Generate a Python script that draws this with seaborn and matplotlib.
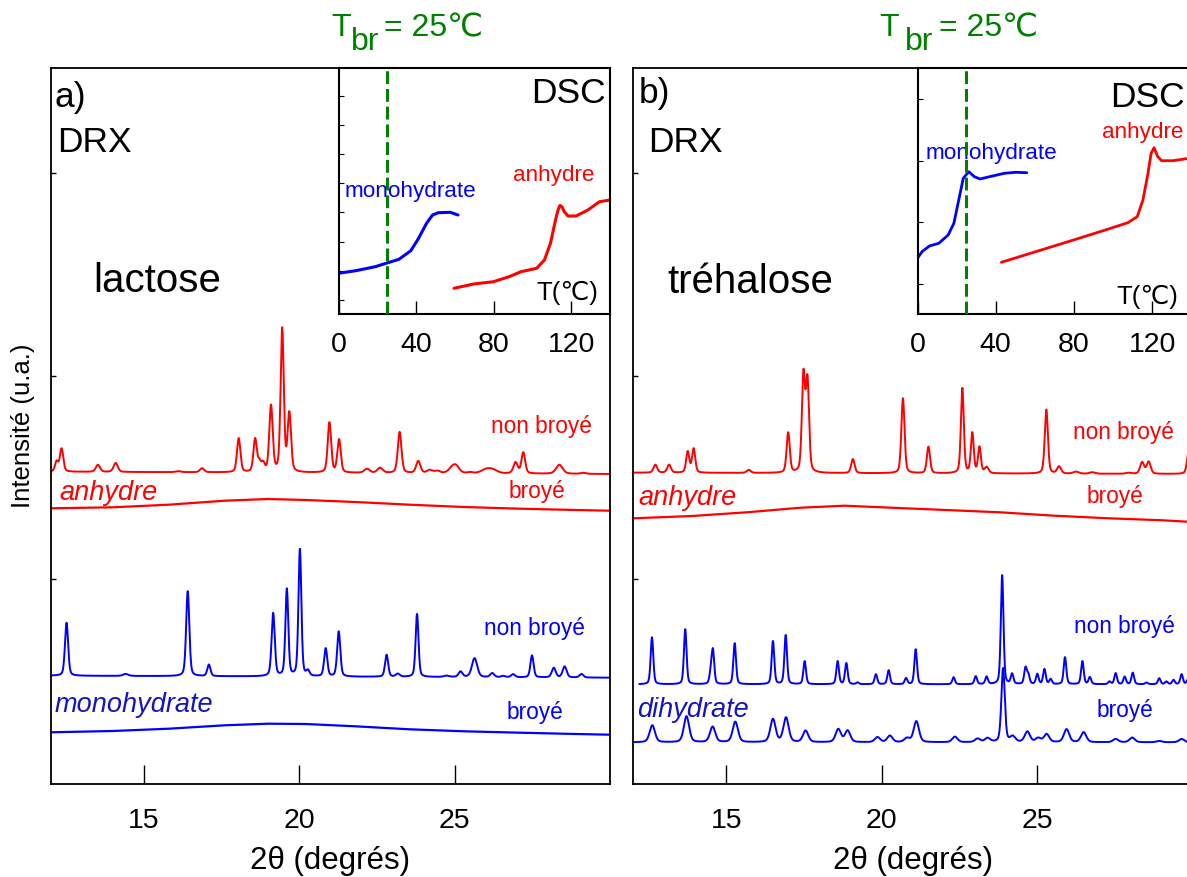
import numpy as np
import pandas as pd
import matplotlib
matplotlib.use("Agg")
import matplotlib.pyplot as plt
import seaborn as sns

# ---------------------------------------------------------------- XRD data
# peak lists (2theta in degrees, height and FWHM in arbitrary units / degrees)
lac_anh_pos = [12.19, 12.35, 13.52, 14.09, 16.10, 16.87, 18.05, 18.58, 18.72, 18.84,
               19.09, 19.45, 19.68, 20.97, 21.28, 22.18, 22.60, 23.23, 23.83, 24.20,
               24.44, 24.90, 25.04, 25.50, 26.00, 26.22, 26.96, 27.21, 28.37, 29.14]
lac_anh_h = [10, 23, 7, 9, 1, 4, 34, 33, 9, 8,
             66, 143, 58, 50, 33, 4, 5, 41, 12, 3,
             2.3, 4, 7, 1, 3.5, 3.5, 11, 21, 9, 1]
lac_anh_w = [0.12, 0.13, 0.16, 0.16, 0.2, 0.16, 0.13, 0.13, 0.12, 0.12,
             0.13, 0.12, 0.13, 0.13, 0.13, 0.2, 0.2, 0.14, 0.16, 0.2,
             0.2, 0.25, 0.25, 0.2, 0.35, 0.35, 0.16, 0.14, 0.25, 0.2]
lac_anh_base = [311.8, 309.5]          # baseline at 12 and 30 deg

lac_anh_amorph_x = [12.0, 14.0, 15.8, 17.6, 19.0, 20.2, 21.8, 23.55, 25.3, 27.1, 28.9, 30.0]
lac_anh_amorph_y = [275.2, 276.2, 278.8, 282.8, 284.5, 283.5, 281.5, 278.8, 276.5, 274.8, 273.5, 272.8]

lac_mono_pos = [12.51, 14.41, 16.41, 17.09, 19.16, 19.60, 20.02, 20.28, 20.85, 21.27,
                22.81, 23.17, 23.79, 24.74, 25.19, 25.64, 26.21, 26.56, 26.88, 27.49,
                28.19, 28.54, 29.08]
lac_mono_h = [53, 2, 85, 11.5, 63, 87, 127, 5, 28, 45,
              22, 3, 63, 1.3, 5.5, 19, 4, 1.3, 3, 22,
              9.5, 11, 3.5]
lac_mono_w = [0.12, 0.2, 0.12, 0.12, 0.12, 0.11, 0.11, 0.12, 0.12, 0.12,
              0.12, 0.15, 0.11, 0.2, 0.15, 0.2, 0.15, 0.15, 0.15, 0.12,
              0.15, 0.15, 0.15]
lac_mono_base = [107.8, 105.8]

lac_mono_amorph_x = [12.0, 14.0, 15.8, 17.6, 19.0, 20.2, 21.8, 23.55, 25.3, 27.1, 28.9, 30.0]
lac_mono_amorph_y = [51.2, 52.5, 54.8, 58.2, 59.8, 59.5, 57.2, 54.2, 52.2, 50.8, 49.5, 48.8]

tre_anh_pos = [12.72, 13.16, 13.76, 13.95, 15.72, 16.99, 17.48, 17.61, 19.07, 20.68,
               21.50, 22.59, 22.91, 23.14, 23.37, 25.29, 25.70, 26.24, 26.77, 27.93,
               28.37, 28.58, 29.88]
tre_anh_h = [8, 8, 21, 24, 3, 40, 96, 90, 14, 75,
             26.5, 85, 40, 26, 6, 64, 7, 2, 1.5, 1,
             11.5, 12, 25]
tre_anh_w = [0.14, 0.14, 0.12, 0.12, 0.15, 0.12, 0.12, 0.12, 0.13, 0.12,
             0.12, 0.11, 0.11, 0.11, 0.15, 0.12, 0.15, 0.2, 0.2, 0.2,
             0.15, 0.15, 0.14]
tre_anh_base = [310.8, 309.5]

tre_anh_amorph_x = [12.0, 13.9, 15.66, 17.4, 18.8, 20.3, 22.06, 23.8, 25.55, 27.3, 29.04, 30.0]
tre_anh_amorph_y = [265.2, 267.5, 271.2, 275.8, 277.8, 275.8, 273.5, 271.2, 267.8, 265.2, 263.2, 261.5]

tre_di_pos = [12.61, 13.68, 14.50, 14.57, 15.27, 16.50, 16.91, 17.52, 18.58, 18.86,
              19.22, 19.81, 20.22, 20.78, 21.09, 22.31, 23.02, 23.37, 23.87, 24.19,
              24.62, 24.71, 25.00, 25.23, 25.43, 25.89, 26.45, 26.69, 27.32, 27.52,
              27.81, 28.07, 28.51, 28.92, 29.15, 29.38, 29.64, 29.85]
tre_di_h = [47, 55, 10, 33, 41, 43, 49, 23, 23, 21,
            1.7, 10, 14, 6, 35, 7, 8, 7.5, 109, 10,
            16, 9, 10, 15, 5, 27, 23, 7, 2.7, 11,
            7.5, 11.5, 1.7, 6, 2.7, 4.3, 10, 5]
tre_di_w = [0.1] * len(tre_di_pos)
tre_di_base = [99.2, 99.2]

tre_di_br_pos = [12.62, 13.72, 14.56, 15.29, 16.50, 16.92, 17.55, 18.60, 18.90, 19.86,
                 20.26, 20.81, 21.11, 22.35, 23.08, 23.40, 23.90, 24.21, 24.68, 25.03,
                 25.30, 25.94, 26.49, 27.52, 28.05, 28.92, 29.64]
tre_di_br_h = [17, 26, 15.5, 20.5, 23, 24.5, 11.5, 13, 11.5, 5,
               6.5, 4, 21, 5.5, 3.5, 4, 74, 5.5, 10.5, 4,
               8, 13, 10, 3.3, 4.7, 1.3, 3.3]
tre_di_br_w = [0.2] * 16 + [0.13] + [0.2] * 10
tre_di_br_base = [41.2, 41.2]

# ---------------------------------------------------------------- DSC data
dsc_lac_mono_T = [0, 8.9, 19, 24.5, 31.2, 37.3, 41.3, 45.4, 48.5, 51.5, 57.6, 61.6]
dsc_lac_mono_q = [40.7, 43.3, 47.3, 50.7, 54.7, 63.3, 75.7, 90.7, 99, 101.3, 101.7, 99]
dsc_lac_anh_T = [59.6, 69.7, 79.9, 88, 94.1, 102.2, 106.2, 109.3, 111.9, 113.2, 114.2,
                 115.3, 116.5, 118.4, 122.5, 128.6, 134.6, 140]
dsc_lac_anh_q = [25.7, 30, 32.3, 37.3, 42.3, 45.7, 54, 70.7, 94, 104, 108.5,
                 107, 102, 98, 98, 104, 112.3, 114]
dsc_tre_mono_T = [0, 2.3, 6.1, 10.9, 15.7, 18.6, 21.1, 23.4, 26.2, 29.1, 32, 36.8,
                  44.4, 50.2, 55.9]
dsc_tre_mono_q = [55.7, 62.3, 68, 70.7, 79, 90.7, 114, 135.7, 142.3, 137.3, 135, 137.3,
                  140.7, 141.7, 141.3]
dsc_tre_anh_T = [42.9, 57.8, 77, 96.1, 107.6, 112.4, 115.3, 117.6, 119.5, 121, 122.9,
                 124.9, 130.6, 140]
dsc_tre_anh_q = [51.7, 60.7, 72.3, 84, 91.3, 97.3, 114, 137.3, 160.7, 166.3, 157.3,
                 153.3, 153.3, 156]

T_BR = 25
xrd_ticks = [15, 20, 25]
dsc_ticks = [0, 40, 80, 120]

RED = "#ff0000"
BLUE = "#0000ff"
NAVY = "#1414c0"
GREEN = "#008000"


def pattern(pos, h, w, base, x0=12.0, x1=30.0, eta=0.35):
    """Pseudo-Voigt profile of a peak list on a linear baseline."""
    tt = np.arange(x0, x1 + 1e-9, 0.005)
    y = np.interp(tt, [12.0, 30.0], base)
    for p, a, f in zip(pos, h, w):
        s = f / 2.3548
        g = np.exp(-0.5 * ((tt - p) / s) ** 2)
        lo = 1.0 / (1.0 + ((tt - p) / (f / 2)) ** 2)
        y = y + a * ((1 - eta) * g + eta * lo)
    return pd.DataFrame({"tt": tt, "I": y})


def curve(ax, df, color, lw):
    sns.lineplot(data=df, x="tt", y="I", ax=ax, color=color, linewidth=lw,
                 estimator=None, sort=False, legend=False)


sns.set_style("ticks", {"axes.edgecolor": "black", "text.color": "black",
                        "xtick.color": "black", "ytick.color": "black",
                        "axes.labelcolor": "black"})
plt.rcParams["font.family"] = ["Liberation Sans", "DejaVu Sans"]
plt.rcParams["axes.linewidth"] = 1.3

W, H = 1187, 877
fig = plt.figure(figsize=(W / 100, H / 100), dpi=100)


def fx(px):
    return px / W


def fy(py):
    return 1 - py / H


ax_l = fig.add_axes([fx(50.7), fy(783.5), fx(559.3), 716 / H])
ax_r = fig.add_axes([fx(633), fy(783.5), fx(559.8), 716 / H])

# left: lactose
curve(ax_l, pattern(lac_anh_pos, lac_anh_h, lac_anh_w, lac_anh_base), RED, 1.4)
curve(ax_l, pd.DataFrame({"tt": lac_anh_amorph_x, "I": lac_anh_amorph_y}), RED, 1.6)
curve(ax_l, pattern(lac_mono_pos, lac_mono_h, lac_mono_w, lac_mono_base), BLUE, 1.4)
curve(ax_l, pd.DataFrame({"tt": lac_mono_amorph_x, "I": lac_mono_amorph_y}), BLUE, 1.6)

# right: trehalose
curve(ax_r, pattern(tre_anh_pos, tre_anh_h, tre_anh_w, tre_anh_base), RED, 1.4)
curve(ax_r, pd.DataFrame({"tt": tre_anh_amorph_x, "I": tre_anh_amorph_y}), RED, 1.6)
curve(ax_r, pattern(tre_di_pos, tre_di_h, tre_di_w, tre_di_base, x0=12.2), BLUE, 1.4)
curve(ax_r, pattern(tre_di_br_pos, tre_di_br_h, tre_di_br_w, tre_di_br_base), BLUE, 1.4)

for ax in (ax_l, ax_r):
    ax.set_xlim(12, 30)
    ax.set_ylim(0, 716)
    ax.set_xticks(xrd_ticks)
    ax.set_xticklabels([str(t) for t in xrd_ticks])
    ax.set_yticks([205, 408, 611])
    ax.set_yticklabels([])
    ax.tick_params(axis="x", direction="in", length=14, width=1.0, labelsize=20.5,
                   pad=18, colors="black")
    ax.tick_params(axis="y", direction="in", length=3.5, width=1.0, colors="black")
    ax.set_xlabel("2θ (degrés)", fontsize=22.5, labelpad=8, color="black")
    ax.set_ylabel("")
    for s in ax.spines.values():
        s.set_visible(True)
        s.set_linewidth(1.3)
        s.set_edgecolor("black")

ax_l.set_ylabel("Intensité (u.a.)", fontsize=18.5, labelpad=8, color="black")

# panel annotations
big = dict(fontsize=25.5, va="center", ha="left", color="black")
ax_l.text(12.11, 686.5, "a)", **big)
ax_l.text(12.2, 640.5, "DRX", **big)
ax_l.text(13.36, 502.5, "lactose", fontsize=29, va="center", ha="left", color="black")
ax_r.text(12.19, 690.5, "b)", **big)
ax_r.text(12.5, 641.5, "DRX", **big)
ax_r.text(13.09, 501.5, "tréhalose", fontsize=29, va="center", ha="left", color="black")

lab = dict(fontsize=16.3, va="center", ha="left")
ax_l.text(26.16, 356.8, "non broyé", color=RED, **lab)
ax_l.text(26.74, 291.8, "broyé", color=RED, **lab)
ax_l.text(25.96, 155.5, "non broyé", color=BLUE, **lab)
ax_l.text(26.67, 70.5, "broyé", color=BLUE, **lab)
ax_r.text(26.14, 350.5, "non broyé", color=RED, **lab)
ax_r.text(26.58, 286.8, "broyé", color=RED, **lab)
ax_r.text(26.18, 157.5, "non broyé", color=BLUE, **lab)
ax_r.text(26.91, 72.8, "broyé", color=BLUE, **lab)

ital = dict(fontsize=19.5, va="center", ha="left", style="italic")
ax_l.text(12.27, 290.8, "anhydre", color=RED, **ital)
ax_l.text(12.13, 78.5, "monohydrate", color=NAVY, **ital)
ax_r.text(12.16, 285.2, "anhydre", color=RED, **ital)
ax_r.text(12.14, 73.5, "dihydrate", color=NAVY, **ital)

# DSC insets
in_l = fig.add_axes([fx(338.5), fy(314), fx(271.5), 246.5 / H])
in_r = fig.add_axes([fx(917.5), fy(314), fx(273.7), 246.5 / H])

curve(in_l, pd.DataFrame({"tt": dsc_lac_mono_T, "I": dsc_lac_mono_q}), BLUE, 2.2)
curve(in_l, pd.DataFrame({"tt": dsc_lac_anh_T, "I": dsc_lac_anh_q}), RED, 2.2)
curve(in_r, pd.DataFrame({"tt": dsc_tre_mono_T, "I": dsc_tre_mono_q}), BLUE, 2.0)
curve(in_r, pd.DataFrame({"tt": dsc_tre_anh_T, "I": dsc_tre_anh_q}), RED, 2.0)

for ax, yt in ((in_l, [14, 43, 72, 102, 131, 160, 189, 218]),
               (in_r, [30, 92, 153, 215])):
    ax.set_facecolor("white")
    ax.set_xlim(0, 140)
    ax.set_ylim(0, 246.5)
    ax.set_xticks(dsc_ticks)
    ax.set_xticklabels([str(t) for t in dsc_ticks])
    ax.set_yticks(yt)
    ax.set_yticklabels([])
    ax.tick_params(axis="x", direction="in", length=9.5, width=1.0, labelsize=20.5,
                   pad=13, colors="black")
    ax.tick_params(axis="y", direction="in", length=3.5, width=0.8, colors="black")
    ax.set_xlabel("")
    ax.set_ylabel("")
    for s in ax.spines.values():
        s.set_visible(True)
        s.set_linewidth(1.5)
        s.set_edgecolor("black")
    line = ax.axvline(T_BR, color=GREEN, linewidth=2.2, zorder=5)
    line.set_dashes((4.2, 1.6))

in_l.text(137.7, 221, "DSC", fontsize=25.5, va="center", ha="right", color="black")
in_l.text(3.3, 122, "monohydrate", color=BLUE, fontsize=16.2, va="center", ha="left")
in_l.text(90, 138, "anhydre", color=RED, fontsize=16.2, va="center", ha="left")
in_l.text(101.8, 21, "T(℃)", fontsize=18.5, va="center", ha="left", color="black")

in_r.text(98.5, 217, "DSC", fontsize=25.5, va="center", ha="left", color="black")
in_r.text(4.2, 161, "monohydrate", color=BLUE, fontsize=16.2, va="center", ha="left")
in_r.text(94.4, 182, "anhydre", color=RED, fontsize=16.2, va="center", ha="left")
in_r.text(101.5, 17, "T(℃)", fontsize=18.5, va="center", ha="left", color="black")

# grinding temperature headers
for xT, xb, xe in ((331, 351, 384), (879, 905, 939)):
    fig.text(fx(xT), fy(36), "T", fontsize=23, color=GREEN, va="baseline", ha="left")
    fig.text(fx(xb), fy(50), "br", fontsize=23, color=GREEN, va="baseline", ha="left")
    fig.text(fx(xe), fy(36), "= 25℃", fontsize=23, color=GREEN, va="baseline", ha="left")

fig.savefig("out.png", dpi=100, facecolor="white")
